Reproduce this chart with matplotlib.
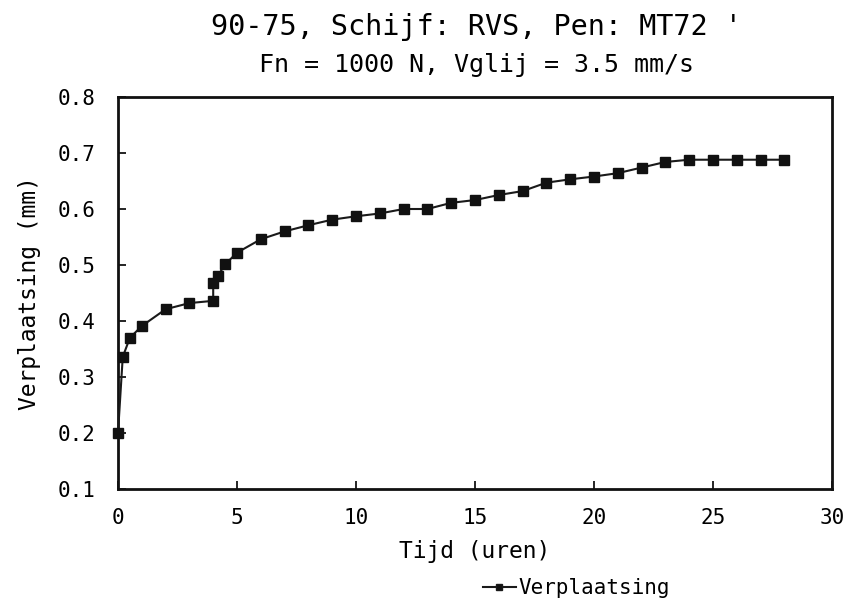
import matplotlib
matplotlib.use("Agg")
import matplotlib.pyplot as plt
from matplotlib.lines import Line2D

tijd = [0, 0.2, 0.5, 1, 2, 3, 4, 4, 4.2, 4.5, 5, 6, 7, 8, 9, 10, 11, 12, 13, 14,
        15, 16, 17, 18, 19, 20, 21, 22, 23, 24, 25, 26, 27, 28]
verplaatsing = [0.2, 0.336, 0.37, 0.391, 0.421, 0.432, 0.436, 0.467, 0.481, 0.501,
                0.522, 0.546, 0.56, 0.571, 0.581, 0.587, 0.592, 0.6, 0.6, 0.611,
                0.616, 0.625, 0.632, 0.647, 0.653, 0.658, 0.664, 0.674, 0.684,
                0.688, 0.688, 0.688, 0.688, 0.688]
xticks = [0, 5, 10, 15, 20, 25, 30]
yticks = [0.1, 0.2, 0.3, 0.4, 0.5, 0.6, 0.7, 0.8]

plt.rcParams['font.family'] = ['DejaVu Sans Mono', 'DejaVu Sans']

fig = plt.figure(figsize=(8.54, 6.03), dpi=100)
ax = fig.add_axes([118/854, 1-489/603, (832-118)/854, (489-97)/603])
ax.plot(tijd, verplaatsing, color='#1a1a1a', lw=1.5, marker='s', ms=6.5,
        markerfacecolor='#111111', markeredgecolor='#111111', clip_on=False, zorder=5)
ax.set_xlim(0, 30)
ax.set_ylim(0.1, 0.8)
ax.set_xticks(xticks)
ax.set_yticks(yticks)
ax.set_xticklabels([str(v) for v in xticks], fontsize=15)
ax.set_yticklabels([f"{v:.1f}" for v in yticks], fontsize=15)
ax.tick_params(axis='x', direction='in', length=6, width=1.2, top=False, pad=14)
ax.tick_params(axis='y', direction='in', length=6, width=1.2, right=False, pad=16)
for s in ax.spines.values():
    s.set_linewidth(2)
    s.set_color('#111111')
ax.set_xlabel("Tijd (uren)", fontsize=16.5, labelpad=8)
ax.set_ylabel("Verplaatsing (mm)", fontsize=16.5, labelpad=12)

fig.text(476/854, 1-27/603, "90-75, Schijf: RVS, Pen: MT72 '", ha='center', va='center', fontsize=20.5)
fig.text(477/854, 1-65/603, "Fn = 1000 N, Vglij = 3.5 mm/s", ha='center', va='center', fontsize=18)

handle = Line2D([], [], color='#1a1a1a', lw=1.5, marker='s', ms=5, markerfacecolor='#111111')
fig.legend([handle], ["Verplaatsing"], loc='center', bbox_to_anchor=(576/854, 1-588/603),
           frameon=False, fontsize=15, handlelength=1.6, handletextpad=0.1,
           borderpad=0, borderaxespad=0)

fig.savefig("out.png", dpi=100, facecolor='white')
